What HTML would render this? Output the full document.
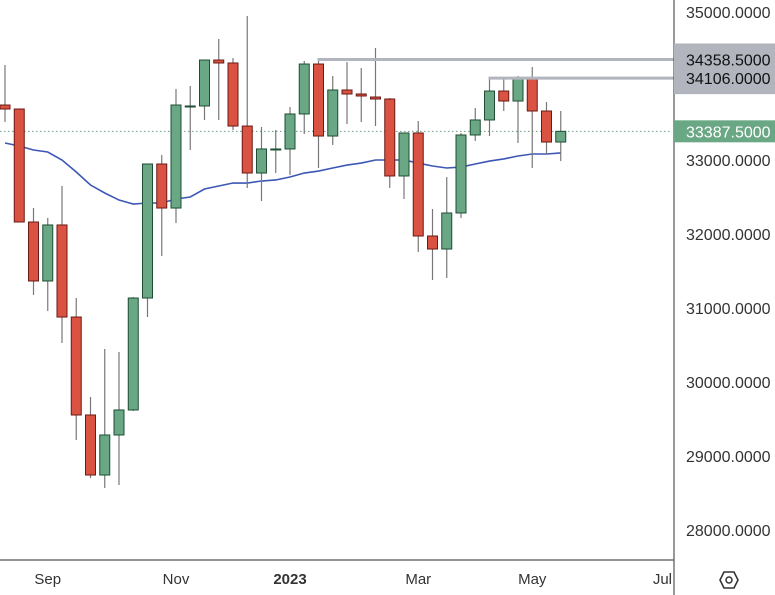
<!DOCTYPE html>
<html><head><meta charset="utf-8"><style>
body{margin:0;background:#fff;font-family:"Liberation Sans",sans-serif}
svg{display:block}
</style></head><body>
<svg id="chart" width="775" height="595">
<g id="plot"></g>
<line x1="674" y1="0" x2="674" y2="595" stroke="#555" stroke-width="1.2"/>
<line x1="0" y1="560" x2="674" y2="560" stroke="#555" stroke-width="1.2"/>
<g id="yaxis"></g>
<g id="xaxis"></g>
<g transform="translate(729,580)">
<polygon points="-5,-8 5,-8 9,0 5,8 -5,8 -9,0" fill="none" stroke="#333" stroke-width="1.6"/>
<circle r="3" fill="none" stroke="#333" stroke-width="1.5"/>
</g>
</svg>
<script>
const opens=[33743,33689,32162,31365,32122,30878,29554,28743,29284,29622,31135,32946,32351,33730,33730,34351,34311,33459,32824,33149,33149,33622,34297,33324,33946,33892,33851,33824,32784,33365,31973,31797,32284,33338,33541,33932,33797,34108,33662,33243];
const highs=[34284,33689,32351,32216,32649,31135,29797,30446,30405,31149,32946,33068,33959,34000,34351,34635,34378,34946,33446,33405,33716,34338,34365,34135,34324,34243,34514,33838,33365,33527,32338,32770,33365,33703,34108,34122,34135,34257,33784,33662];
const lows=[33514,32162,31176,30959,30527,29216,28703,28568,28608,29608,30878,31703,32149,33135,33541,33541,33405,32622,32446,32824,32797,33351,32892,33203,33486,33514,33459,32622,32473,31757,31378,31405,32216,33257,33324,33662,33230,32892,33081,32986];
const closes=[33689,32162,31365,32122,30878,29554,28743,29284,29622,31135,32946,32351,33743,33730,34351,34311,33459,32824,33149,33149,33622,34297,33324,33946,33892,33865,33824,32784,33365,31973,31797,32284,33338,33541,33932,33797,34108,33662,33243,33387.5];
const ma=[33230,33189,33135,33108,33000,32838,32662,32554,32459,32405,32419,32419,32473,32500,32608,32649,32689,32689,32716,32730,32770,32824,32851,32892,32932,32959,33000,33000,33000,32959,32919,32892,32905,32946,32986,33014,33054,33081,33081,33095];
const yTicks=[35000,34000,33000,32000,31000,30000,29000,28000];
const xLabels=["Sep","Nov","2023","Mar","May","Jul"];
const xLabelIdx=[3,12,20,29,37,46.5];
const levels=[34358.5,34106];
const levelStart=[22,34];
const lastPrice=33387.5;

const NS="http://www.w3.org/2000/svg";
const y=v=>12+(35000-v)*0.074;
const x=i=>5+i*14.25;
function mk(tag,attrs,parent){const e=document.createElementNS(NS,tag);for(const k in attrs)e.setAttribute(k,attrs[k]);parent.appendChild(e);return e;}
const plot=document.getElementById('plot'),yax=document.getElementById('yaxis'),xax=document.getElementById('xaxis');

let dl=mk('line',{x1:0,x2:672,y1:y(lastPrice),y2:y(lastPrice),stroke:'#6a9a82','stroke-dasharray':'1.5,2.5','stroke-width':1},plot);



let pts=ma.map((v,i)=>x(i)+','+y(v)).join(' ');
let pl=mk('polyline',{points:pts,fill:'none',stroke:'#3d57b5','stroke-width':1.6},plot);



for(let i=0;i<opens.length;i++){
  const up=closes[i]>=opens[i];
  const cx=x(i);
  const w=mk('line',{x1:cx,x2:cx,y1:y(highs[i]),y2:y(lows[i]),stroke:'#777','stroke-width':1.2},plot);
  
  
  const top=y(Math.max(opens[i],closes[i])),bot=y(Math.min(opens[i],closes[i]));
  const r=mk('rect',{x:cx-5,y:top,width:10,height:Math.max(bot-top,1),fill:up?'#6aa784':'#d95242',stroke:up?'#1f4e34':'#6b1a14','stroke-width':1},plot);
  
  
}
levels.forEach((v,k)=>{
  const l=mk('line',{x1:x(levelStart[k])-1,x2:674,y1:y(v),y2:y(v),stroke:'#b2b5be','stroke-width':3},plot);
  
  
});
yTicks.forEach(v=>{
  const t=mk('text',{x:686,y:y(v)+6,'font-size':16,fill:'#333'},yax);
  t.textContent=v.toFixed(4);
  
  
});
const bx=mk('rect',{x:674,y:y(levels[0])-16,width:101,height:y(levels[1])-y(levels[0])+32,fill:'#b2b5be'},yax);


levels.forEach(v=>{
  const t=mk('text',{x:686,y:y(v)+6,'font-size':16,fill:'#111'},yax);
  t.textContent=v.toFixed(4);
  
  
});
const gb=mk('rect',{x:674,y:y(lastPrice)-11,width:101,height:22,fill:'#6aa784'},yax);


const gt=mk('text',{x:686,y:y(lastPrice)+6,'font-size':16,fill:'#fff'},yax);
gt.textContent=lastPrice.toFixed(4);


xLabels.forEach((s,k)=>{
  const t=mk('text',{x:x(xLabelIdx[k]),y:584,'font-size':15,fill:'#333','text-anchor':k==5?'end':'middle','font-weight':s=='2023'?'bold':'normal'},xax);
  if(k==5)t.setAttribute('x',672);
  t.textContent=s;
  
  
});
</script>
</body></html>
